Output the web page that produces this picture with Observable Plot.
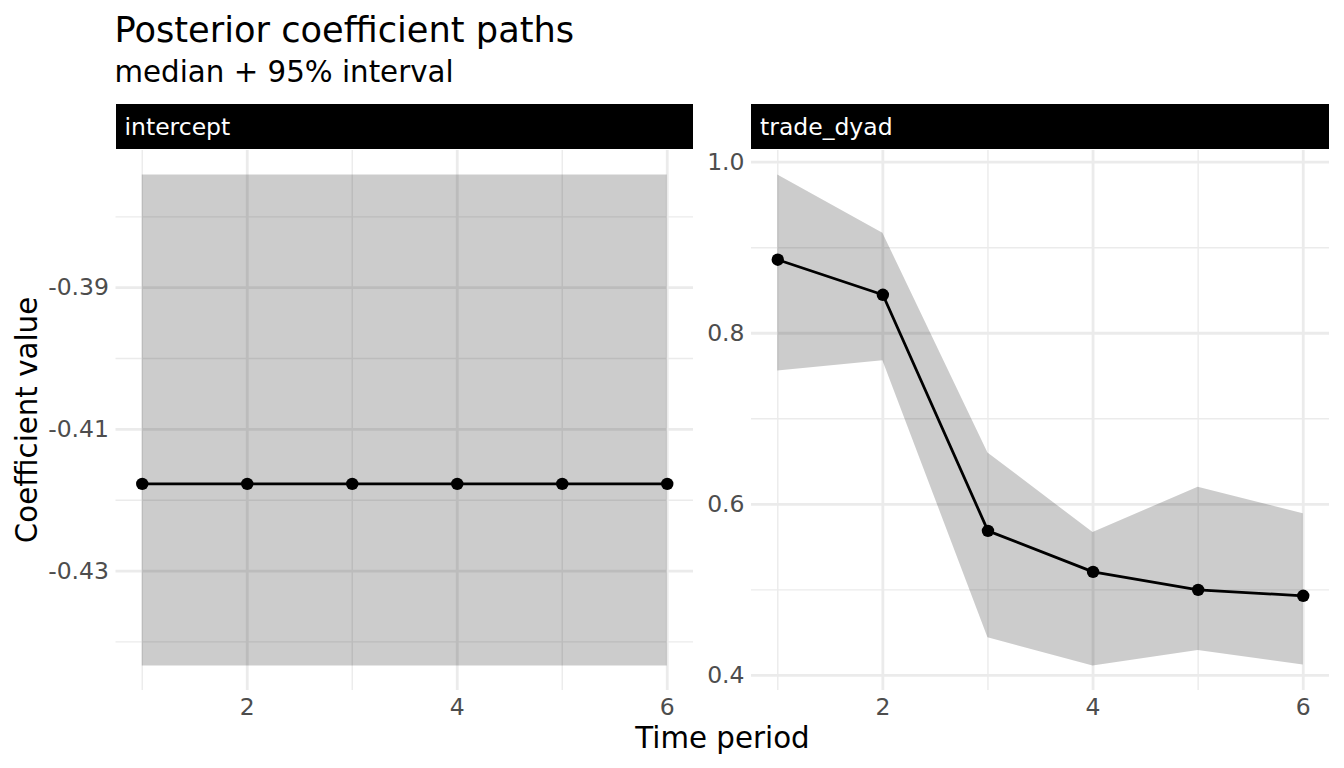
<!DOCTYPE html>
<html>
<head>
<meta charset="utf-8">
<script src="https://cdn.jsdelivr.net/npm/d3@7"></script>
<script src="https://cdn.jsdelivr.net/npm/@observablehq/plot@0.6"></script>
<style>
  html, body { margin: 0; padding: 0; background: #ffffff; }
  #root { position: relative; width: 1344px; height: 768px; overflow: hidden; font-family: "DejaVu Sans", sans-serif; background: #fff; }
  .abs { position: absolute; white-space: nowrap; line-height: 1; }
  .strip { position: absolute; background: #000; height: 45px; top: 104px; }
  .strip span { position: absolute; left: 9px; top: 11.5px; color: #fff; font-size: 23.5px; line-height: 1; }
</style>
</head>
<body>
<div id="root">
  <div class="abs" id="title" style="left:114.5px; top:11.5px; font-size:35.2px; color:#000;"></div>
  <div class="abs" id="subtitle" style="left:114.5px; top:57.5px; font-size:29.3px; color:#000;"></div>
  <div class="strip" id="strip0" style="left:115.5px; width:577.5px;"><span></span></div>
  <div class="strip" id="strip1" style="left:751px; width:578px;"><span></span></div>
  <div id="panel0" style="position:absolute; left:0; top:150px;"></div>
  <div id="panel1" style="position:absolute; left:693px; top:150px;"></div>
  <svg style="position:absolute; left:0; top:0;" width="60" height="768">
    <text id="ytitle" transform="translate(36.5,420) rotate(-90)" text-anchor="middle" font-family="DejaVu Sans" font-size="29.3" fill="#000"></text>
  </svg>
  <div class="abs" id="xtitle" style="left:0; width:1445px; text-align:center; top:724px; font-size:29.3px; color:#000;"></div>
</div>
<script>
// ---- texts ----
const titleText = "Posterior coefficient paths";
const subtitleText = "median + 95% interval";
const xTitle = "Time period";
const yTitle = "Coefficient value";
const facetLabels = ["intercept", "trade_dyad"];

// ---- data ----
const periods = [1, 2, 3, 4, 5, 6];
const interceptMedian = [-0.4177, -0.4177, -0.4177, -0.4177, -0.4177, -0.4177];
const interceptLower  = [-0.4434, -0.4434, -0.4434, -0.4434, -0.4434, -0.4434];
const interceptUpper  = [-0.3741, -0.3741, -0.3741, -0.3741, -0.3741, -0.3741];
const tradeMedian = [0.886, 0.845, 0.569, 0.521, 0.500, 0.493];
const tradeLower  = [0.756, 0.768, 0.444, 0.411, 0.429, 0.412];
const tradeUpper  = [0.985, 0.917, 0.660, 0.567, 0.620, 0.589];

// ---- ticks ----
const xMajor = [2, 4, 6];
const xMinor = [1, 3, 5];
const interceptMajor = [-0.43, -0.41, -0.39];
const interceptMinor = [-0.44, -0.42, -0.40, -0.38];
const tradeMajor = [0.4, 0.6, 0.8, 1.0];
const tradeMinor = [0.5, 0.7, 0.9];

document.getElementById("title").textContent = titleText;
document.getElementById("subtitle").textContent = subtitleText;
document.getElementById("xtitle").textContent = xTitle;
document.getElementById("ytitle").textContent = yTitle;
document.querySelector("#strip0 span").textContent = facetLabels[0];
document.querySelector("#strip1 span").textContent = facetLabels[1];

function rows(med, lo, hi) {
  return periods.map((t, i) => ({t, med: med[i], lo: lo[i], hi: hi[i]}));
}
function expand(lo, hi) {
  const a = d3.min(lo), b = d3.max(hi), e = (b - a) * 0.05;
  return [a - e, b + e];
}
const xDomain = [d3.min(periods) - 0.05 * (d3.max(periods) - d3.min(periods)),
                 d3.max(periods) + 0.05 * (d3.max(periods) - d3.min(periods))];

function panel({data, yDomain, major, minor, fmt, width, marginLeft, marginRight}) {
  return Plot.plot({
    width, height: 580,
    marginLeft, marginRight, marginTop: 0, marginBottom: 40,
    x: {domain: xDomain},
    y: {domain: yDomain},
    style: {fontFamily: "DejaVu Sans", fontSize: "23.5px", color: "#4D4D4D", background: "transparent", overflow: "visible"},
    marks: [
      Plot.ruleY(minor, {stroke: "#EBEBEB", strokeWidth: 1.4}),
      Plot.ruleY(major, {stroke: "#EBEBEB", strokeWidth: 2.8}),
      Plot.ruleX(xMinor, {stroke: "#EBEBEB", strokeWidth: 1.4}),
      Plot.ruleX(xMajor, {stroke: "#EBEBEB", strokeWidth: 2.8}),
      Plot.areaY(data, {x: "t", y1: "lo", y2: "hi", fill: "black", fillOpacity: 0.2}),
      Plot.lineY(data, {x: "t", y: "med", stroke: "black", strokeWidth: 2.8}),
      Plot.dot(data, {x: "t", y: "med", r: 6.2, fill: "black", stroke: "none"}),
      Plot.axisX({ticks: xMajor, tickSize: 0, tickPadding: 8, label: null, tickFormat: d => String(d)}),
      Plot.axisY({ticks: major, tickSize: 0, tickPadding: 7, label: null, tickFormat: fmt})
    ]
  });
}

document.getElementById("panel0").appendChild(panel({
  data: rows(interceptMedian, interceptLower, interceptUpper),
  yDomain: expand(interceptLower, interceptUpper),
  major: interceptMajor, minor: interceptMinor,
  fmt: d => d.toFixed(2),
  width: 693, marginLeft: 115.5, marginRight: 0
}));
document.getElementById("panel1").appendChild(panel({
  data: rows(tradeMedian, tradeLower, tradeUpper),
  yDomain: expand(tradeLower, tradeUpper),
  major: tradeMajor, minor: tradeMinor,
  fmt: d => d.toFixed(1),
  width: 651, marginLeft: 58, marginRight: 15
}));
</script>
</body>
</html>
